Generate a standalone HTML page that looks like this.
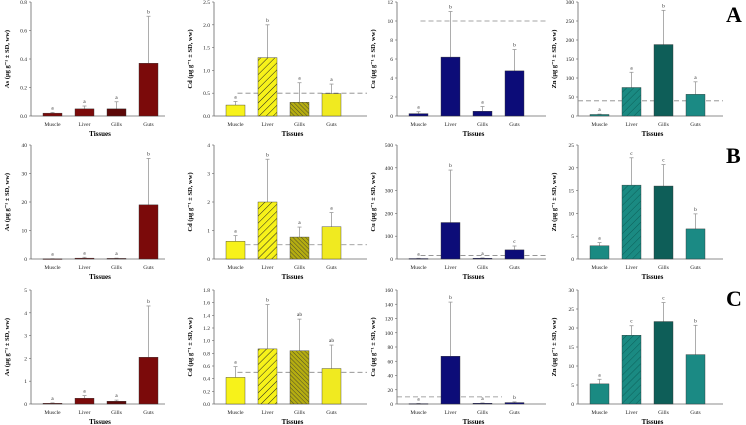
<!DOCTYPE html>
<html><head><meta charset="utf-8"><style>
body{margin:0;background:#fff;}
svg{display:block;font-family:"Liberation Serif",serif;}
</style></head><body>
<svg id="fig" width="746" height="425" viewBox="0 0 746 425" xmlns="http://www.w3.org/2000/svg">
<defs>
<pattern id="hatchBack" patternUnits="userSpaceOnUse" width="5" height="5" patternTransform="rotate(45)"><rect width="5" height="5" fill="none"/><line x1="0" y1="0" x2="0" y2="5" stroke="#222" stroke-width="1"/></pattern>
<pattern id="hatchFwd" patternUnits="userSpaceOnUse" width="3" height="3" patternTransform="rotate(-45)"><line x1="0" y1="0" x2="0" y2="3" stroke="#333" stroke-width="0.8"/></pattern>
<pattern id="hatchBackLight" patternUnits="userSpaceOnUse" width="5" height="5" patternTransform="rotate(45)"><line x1="0" y1="0" x2="0" y2="5" stroke="#0c5f59" stroke-width="1"/></pattern>
</defs>
<text x="726" y="22" font-size="22" font-weight="bold">A</text>
<text x="726" y="163" font-size="22" font-weight="bold">B</text>
<text x="726" y="306" font-size="22" font-weight="bold">C</text>
</svg>
<script>
const tissues=["Muscle","Liver","Gills","Guts"];
const asA_mean=[0.02,0.05,0.05,0.37], asA_sd=[0.005,0.02,0.05,0.33], asA_let=["a","a","a","b"];
const cdA_mean=[0.24,1.28,0.30,0.49], cdA_sd=[0.08,0.72,0.43,0.21], cdA_let=["a","b","a","a"];
const cuA_mean=[0.25,6.2,0.5,4.75], cuA_sd=[0.2,4.8,0.5,2.25], cuA_let=["a","b","a","b"];
const znA_mean=[4,75,188,57], znA_sd=[1,40,90,33], znA_let=["a","a","b","a"];
const asB_mean=[0.05,0.3,0.2,19], asB_sd=[0.05,0.3,0.1,16.3], asB_let=["a","a","a","b"];
const cdB_mean=[0.62,2.0,0.77,1.13], cdB_sd=[0.2,1.5,0.35,0.5], cdB_let=["a","b","a","a"];
const cuB_mean=[2,160,3,40], cuB_sd=[1,230,2,17], cuB_let=["a","b","a","c"];
const znB_mean=[2.9,16.2,16,6.6], znB_sd=[0.7,6,4.7,3.3], znB_let=["a","c","c","b"];
const asC_mean=[0.03,0.25,0.12,2.05], asC_sd=[0.02,0.12,0.05,2.25], asC_let=["a","a","a","b"];
const cdC_mean=[0.42,0.87,0.84,0.56], cdC_sd=[0.17,0.7,0.5,0.37], cdC_let=["a","b","ab","ab"];
const cuC_mean=[0.5,67,1,2], cuC_sd=[0.3,76,0.5,1], cuC_let=["a","b","a","b"];
const znC_mean=[5.3,18.1,21.7,13], znC_sd=[1.2,2.5,5,7.7], znC_let=["a","c","c","b"];
const asA_ticks=["0.0","0.2","0.4","0.6","0.8"], cdA_ticks=["0.0","0.5","1.0","1.5","2.0","2.5"], cuA_ticks=["0","2","4","6","8","10","12"], znA_ticks=["0","50","100","150","200","250","300"];
const asB_ticks=["0","10","20","30","40"], cdB_ticks=["0","1","2","3","4"], cuB_ticks=["0","100","200","300","400","500"], znB_ticks=["0","5","10","15","20","25"];
const asC_ticks=["0","1","2","3","4","5"], cdC_ticks=["0.0","0.2","0.4","0.6","0.8","1.0","1.2","1.4","1.6","1.8"], cuC_ticks=["0","20","40","60","80","100","120","140","160"], znC_ticks=["0","5","10","15","20","25","30"];
const cdA_limit=[0.5], cuA_limit=[10], znA_limit=[40], cdB_limit=[0.5], cuB_limit=[15], cdC_limit=[0.5], cuC_limit=[10];

const svg=document.getElementById('fig');
const NS="http://www.w3.org/2000/svg";
function mk(tag,attrs,parent){const e=document.createElementNS(NS,tag);for(const k in attrs)e.setAttribute(k,attrs[k]);(parent||svg).appendChild(e);return e;}
const cols=[{ax:31,end:165},{ax:214,end:367},{ax:397,end:546},{ax:578,end:723}];
const rows=[{top:2,bot:116},{top:145,bot:259},{top:290,bot:404}];
const metals=[
 {name:"As",fills:["#7b0a0a","#7b0a0a","#5c0808","#7b0a0a"],pat:[null,null,null,null]},
 {name:"Cd",fills:["#f7f21a","#f7f21a","#b5ad10","#f0ea20"],pat:[null,"url(#hatchBack)","url(#hatchFwd)",null]},
 {name:"Cu",fills:["#0c0c78","#0c0c78","#0c0c78","#0c0c78"],pat:[null,null,null,null]},
 {name:"Zn",fills:["#1a8a82","#1a8a82","#0e5e58","#1b8a84"],pat:[null,"url(#hatchBackLight)",null,null]}
];
const panels=[
 [[asA_mean,asA_sd,asA_let,asA_ticks,null],[cdA_mean,cdA_sd,cdA_let,cdA_ticks,cdA_limit],[cuA_mean,cuA_sd,cuA_let,cuA_ticks,cuA_limit],[znA_mean,znA_sd,znA_let,znA_ticks,znA_limit]],
 [[asB_mean,asB_sd,asB_let,asB_ticks,null],[cdB_mean,cdB_sd,cdB_let,cdB_ticks,cdB_limit],[cuB_mean,cuB_sd,cuB_let,cuB_ticks,cuB_limit],[znB_mean,znB_sd,znB_let,znB_ticks,null]],
 [[asC_mean,asC_sd,asC_let,asC_ticks,null],[cdC_mean,cdC_sd,cdC_let,cdC_ticks,cdC_limit],[cuC_mean,cuC_sd,cuC_let,cuC_ticks,cuC_limit],[znC_mean,znC_sd,znC_let,znC_ticks,null]]
];
panels.forEach((row,ri)=>row.forEach((p,ci)=>{
 const [means,sds,lets,ticks,limit]=p; const c=cols[ci], r=rows[ri], m=metals[ci];
 const ymax=parseFloat(ticks[ticks.length-1]);
 const y=v=>r.bot-(v/ymax)*(r.bot-r.top);
 const bx=i=>c.ax+21.5+i*32;
 const g=mk('g',{});
 
 
 // axes
 const ya=mk('line',{x1:c.ax,y1:r.top,x2:c.ax,y2:r.bot,stroke:"#666","stroke-width":0.8},g);
 
 const xa=mk('line',{x1:c.ax,y1:r.bot,x2:c.end,y2:r.bot,stroke:"#666","stroke-width":0.8},g);
 
 ticks.forEach(t=>{const v=parseFloat(t);const yy=y(v);
  mk('line',{x1:c.ax-2,y1:yy,x2:c.ax,y2:yy,stroke:"#666","stroke-width":0.6},g);
  const tt=mk('text',{x:c.ax-4,y:yy+2,"font-size":5.5,"text-anchor":"end",fill:"#222"},g);tt.textContent=t;
  });
 const yt=mk('text',{x:0,y:0,"font-size":6.5,"font-weight":"bold","text-anchor":"middle",transform:`translate(${c.ax-22},${(r.top+r.bot)/2}) rotate(-90)`},g);
 yt.textContent=m.name+" (μg g⁻¹ ± SD, ww)";
 
 const xt=mk('text',{x:(c.ax+c.end)/2+2,y:r.bot+20,"font-size":7,"font-weight":"bold","text-anchor":"middle"},g);
 xt.textContent="Tissues";
 
 if(limit){const dl=mk('line',{x1:ci==2&&ri==2?c.ax:bx(0)+2,y1:y(limit[0]),x2:ci==2&&ri==2?c.ax+105:c.end,y2:y(limit[0]),stroke:"#888","stroke-width":0.8,"stroke-dasharray":"5,3"},g);
  if(ci==3)dl.setAttribute('x1',c.ax);
  }
 means.forEach((v,i)=>{
  const cx=bx(i), top=y(v+sds[i]);
  const eb=mk('line',{x1:cx,y1:y(v),x2:cx,y2:top,stroke:"#999","stroke-width":0.8},g);
  
  mk('line',{x1:cx-2,y1:top,x2:cx+2,y2:top,stroke:"#999","stroke-width":0.8},g);
  const b=mk('rect',{x:cx-9.5,y:y(v),width:19,height:Math.max(r.bot-y(v),0.6),fill:m.fills[i],stroke:"#333","stroke-width":0.4},g);
  
  if(m.pat[i]){const h=mk('rect',{x:cx-9.5,y:y(v),width:19,height:Math.max(r.bot-y(v),0.6),fill:m.pat[i]},g);
   }
  const lt=mk('text',{x:cx,y:top-3,"font-size":5.5,"text-anchor":"middle",fill:"#333"},g);lt.textContent=lets[i];
  
  const tl=mk('text',{x:cx,y:r.bot+10,"font-size":5.5,"text-anchor":"middle",fill:"#222"},g);tl.textContent=tissues[i];
  
 });
}));
</script>
</body></html>
